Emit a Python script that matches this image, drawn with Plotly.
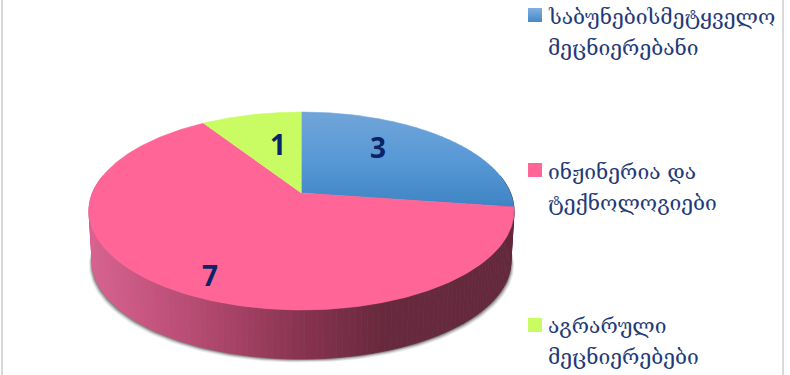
import math
import numpy as np
import plotly.graph_objects as go

categories = ["საბუნებისმეტყველო<br>მეცნიერებანი", "ინჟინერია და<br>ტექნოლოგიები", "აგრარული<br>მეცნიერებები"]
values = [3, 7, 1]
value_labels = ["3", "7", "1"]

W, H = 790, 375
CX, CY, A, B, K = 301.5, 193.0, 209.0, 95.7, 0.1818
DEPTH, SHRINK = 50.8, 0.985
PINK, GREEN = "#FF6596", "#C9FB62"
TEXT = "#1F3A78"


def project(theta):
    u, v = np.sin(theta), np.cos(theta)
    w = 1 + K * v
    return CX + A * u / w, CY - B * v / w


def lower(x, y):
    return CX + (x - CX) * SHRINK, CY + (y - CY) * SHRINK + DEPTH


def lerp_colors(t, stops):
    xs = [s[0] for s in stops]
    rgb = [int(round(np.interp(t, xs, [s[1][i] for s in stops]))) for i in range(3)]
    return "rgb(%d,%d,%d)" % tuple(rgb)


def poly(xs, ys, color, line=1.0):
    return go.Scatter(x=list(xs), y=list(ys), mode="lines", fill="toself", fillcolor=color,
                      line=dict(color=color, width=line), hoverinfo="skip", showlegend=False)


def clip_band(pts, y0, y1):
    def clip(points, inside, inter):
        out = []
        for i in range(len(points)):
            a, b = points[i], points[(i + 1) % len(points)]
            if inside(a):
                out.append(a)
            if inside(a) != inside(b):
                out.append(inter(a, b))
        return out

    def at(yv):
        return lambda a, b: (a[0] + (b[0] - a[0]) * (yv - a[1]) / (b[1] - a[1]), yv)

    res = clip(pts, lambda p: p[1] >= y0, at(y0))
    if res:
        res = clip(res, lambda p: p[1] <= y1, at(y1))
    return res


total = sum(values)
bounds = np.cumsum([0] + values) / total * 2 * math.pi

fig = go.Figure()

# visible rim, from the right extreme round the front to the left extreme
th = np.linspace(math.pi * 0.44, math.pi * 1.56, 140)
x_top, y_top = project(th)
x_bot, y_bot = lower(x_top, y_top)

# soft shadow behind the rim
for off, alpha in [(3.5, 0.10), (2.6, 0.16), (1.8, 0.24), (1.0, 0.34)]:
    xs = np.concatenate([x_top, (x_bot + off * 0.9 * np.sign(x_bot - CX))[::-1]])
    ys = np.concatenate([y_top, (y_bot + off)[::-1]])
    fig.add_trace(go.Scatter(x=xs, y=ys, mode="lines", fill="toself", fillcolor="rgba(60,60,60,%.2f)" % alpha,
                             line=dict(width=0), hoverinfo="skip", showlegend=False))

# shaded rim of the big slice
rim_stops = [(90, (218, 98, 144)), (200, (180, 74, 112)), (300, (137, 51, 80)), (385, (103, 41, 61)), (520, (100, 40, 60))]
for i in range(len(th) - 1):
    xs = [x_top[i], x_top[i + 1], x_bot[i + 1], x_bot[i]]
    ys = [y_top[i], y_top[i + 1], y_bot[i + 1], y_bot[i]]
    fig.add_trace(poly(xs, ys, lerp_colors((x_top[i] + x_top[i + 1]) / 2, rim_stops), 0.8))

# top faces
blue_th = np.linspace(bounds[0], bounds[1], 120)
bx, by = project(blue_th)
blue_pts = [(CX, CY)] + list(zip(bx, by))
blue_stops = [(112, (113, 165, 217)), (160, (88, 153, 214)), (207, (62, 132, 196))]
for y0 in np.arange(110, 210, 3.0):
    band = clip_band(blue_pts, y0, y0 + 3.0)
    if band:
        fig.add_trace(poly([p[0] for p in band], [p[1] for p in band], lerp_colors(y0 + 1.5, blue_stops), 0.5))

pink_th = np.linspace(bounds[1], bounds[2], 300)
px, py = project(pink_th)
fig.add_trace(poly([CX, *px], [CY, *py], PINK, 0.6))

green_th = np.linspace(bounds[2], bounds[3], 60)
gx, gy = project(green_th)
fig.add_trace(poly([CX, *gx], [CY, *gy], GREEN, 0.6))

# thin grey frame lines at both sides
for x0, x1 in [(1, 3), (782, 784)]:
    fig.add_shape(type="rect", x0=x0, x1=x1, y0=0, y1=H, fillcolor="#D9D9D9", line=dict(width=0), layer="above")

# legend swatches: blue with a vertical gradient
leg_x = [528, 542]
leg_y = [8, 163, 318]
for j in range(14):
    c = lerp_colors(j, [(0, (128, 174, 224)), (14, (68, 135, 198))])
    fig.add_shape(type="rect", x0=leg_x[0], x1=leg_x[1], y0=leg_y[0] + j, y1=leg_y[0] + j + 1,
                  fillcolor=c, line=dict(width=0), layer="above")
for yy, col in zip(leg_y[1:], [PINK, GREEN]):
    fig.add_shape(type="rect", x0=leg_x[0], x1=leg_x[1], y0=yy, y1=yy + 14, fillcolor=col, line=dict(width=0), layer="above")

legend_line_y = [17, 172, 326]
for cat, yy in zip(categories, legend_line_y):
    for n, part in enumerate(cat.split("<br>")):
        fig.add_annotation(x=548, y=yy + n * 31, text=part, showarrow=False, xanchor="left", yanchor="middle",
                           font=dict(family="DejaVu Serif, DejaVu Sans", size=21, color=TEXT), xshift=-2)

label_pos = [(378, 147), (210, 275), (278, 144)]
for lab, (lx, ly) in zip(value_labels, label_pos):
    fig.add_annotation(x=lx, y=ly, text="<b>%s</b>" % lab, showarrow=False,
                       font=dict(family="Open Sans", size=28, color="#0B2466"))

fig.update_layout(width=W, height=H, margin=dict(l=0, r=0, t=0, b=0), paper_bgcolor="white", plot_bgcolor="white",
                  showlegend=False,
                  xaxis=dict(range=[0, W], visible=False, fixedrange=True),
                  yaxis=dict(range=[H, 0], visible=False, fixedrange=True))
fig.write_html("out.html", config=dict(displayModeBar=False),
               post_script="document.body.style.margin='0';document.body.style.overflow='hidden';")
